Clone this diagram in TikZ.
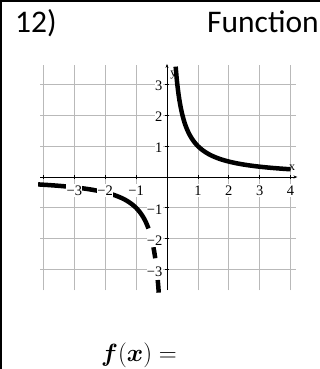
\documentclass[tikz,border=0pt]{standalone}
\usepackage[no-math]{fontspec}
\setmainfont{Carlito}
\newfontfamily\tms{Liberation Serif}
\usepackage{bm}
\usetikzlibrary{arrows.meta}
\begin{document}
\begin{tikzpicture}[x=1pt,y=1pt,
  gridline/.style={draw=gray!55, line width=0.8pt},
  axisline/.style={draw=black, line width=0.9pt, -{Stealth[length=4pt,width=3pt]}},
  tickmark/.style={draw=black, line width=0.8pt},
  ticklab/.style={font=\tms\fontsize{14.5}{14.5}\selectfont, fill=white, inner xsep=0.4pt, inner ysep=1.6pt},
  axlab/.style={font=\tms\fontsize{12}{12}\selectfont, inner sep=0pt},
  curve/.style={draw=black, line width=4.5pt, line cap=butt},
  headtext/.style={font=\fontsize{31.5}{33}\selectfont, inner sep=0pt, anchor=base west},
  frameline/.style={draw=black, line width=2pt},
]
\useasboundingbox (0,0) rectangle (320,369);
\fill[white] (0,0) rectangle (320,369);
\draw[frameline] (0,368) -- (320,368);
\draw[frameline] (1,0) -- (1,369);

\node[headtext] (num) at (15,336) {12)};
\node[headtext] (title) at (207,336) {Function};

\begin{scope}[shift={(167,192)}, x=30.9pt, y=30.9pt]
  % grid
  \foreach \i in {-4,...,4} \draw[gridline] (\i,-3.66) -- (\i,3.62);
  \foreach \j in {-3,...,3} \draw[gridline] (-4.11,\j) -- (4.17,\j);
  % axes
  \coordinate (xl) at (-4.11,0);
  \coordinate (xr) at (4.22,0);
  \coordinate (yb) at (0,-3.66);
  \coordinate (yt) at (0,3.66);
  \draw[axisline] (xl) -- (xr);
  \draw[axisline] (yb) -- (yt);
  % ticks
  \foreach \i in {-4,...,-1,1,2,3,4} \draw[tickmark] (\i,-0.07) -- (\i,0.07);
  \foreach \j in {-3,...,-1,1,2,3} \draw[tickmark] (-0.07,\j) -- (0.07,\j);
  % curves
  \draw[curve] plot[domain=0.28:4, samples=120, smooth] (\x,{1/\x});
  \draw[curve] plot[domain=-4.17:-0.6, samples=120, smooth] (\x,{1/\x});
  \draw[curve] plot[domain=-0.44:-0.38, samples=20, smooth] (\x,{1/\x});
  \draw[curve] plot[domain=-0.30:-0.267, samples=20, smooth] (\x,{1/\x});
  % tick labels
  \foreach \i in {-3,-2,-1} \node[ticklab] (xt\i) at (\i,-0.44) {−\the\numexpr-\i\relax};
  \foreach \i in {1,2,3,4} \node[ticklab] (xt\i) at (\i,-0.44) {\i};
  \foreach \j in {-3,-2,-1} \node[ticklab, anchor=east] (yt\j) at (-0.13,\j-0.07) {−\the\numexpr-\j\relax};
  \foreach \j in {1,2,3} \node[ticklab, anchor=east] (yt\j) at (-0.13,\j-0.04) {\j};
  % axis names
  \node[axlab] (ylab) at (0.21,3.3) {y};
  \node[axlab] (xlab) at (4.05,0.31) {x};
\end{scope}

\node[font=\fontsize{31}{33}\selectfont, inner sep=0pt, anchor=base west] (fx) at (101,8) {$\bm{f}(\bm{x}) =$};
\end{tikzpicture}
\end{document}
